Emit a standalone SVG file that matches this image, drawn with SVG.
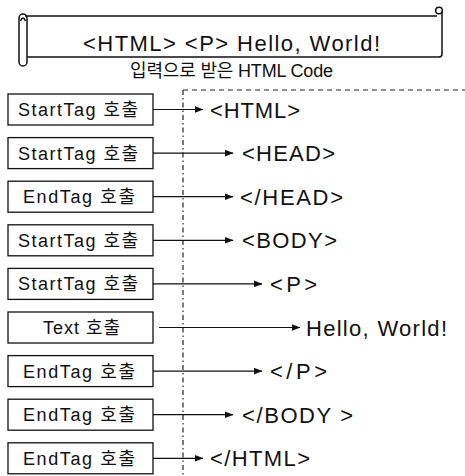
<svg xmlns="http://www.w3.org/2000/svg" width="465" height="476" viewBox="0 0 465 476">
<style>
.box{fill:#fff;stroke:#111;stroke-width:1.3}
.bt{font-family:"Liberation Sans","Noto Sans CJK KR",sans-serif;font-size:18px;fill:#111}
.lt{font-family:"Liberation Sans","Noto Sans CJK KR",sans-serif;font-size:22px;fill:#111}
.ln{stroke:#111;stroke-width:1.2;fill:none;marker-end:url(#ah)}
.ban{fill:none;stroke:#111;stroke-width:1.5}
</style>
<defs>
<marker id="ah" markerUnits="userSpaceOnUse" markerWidth="9" markerHeight="7" refX="8.5" refY="3.5" orient="auto">
<path d="M0,0 L9,3.5 L0,7 z" fill="#111"/>
</marker>
</defs>
<rect width="465" height="476" fill="#fff"/>
<g id="banner">
<path class="ban" d="M25,16 H437 M442,12 V54 Q442,57 439,57 H27"/>
<circle class="ban" cx="439" cy="10.5" r="3.3"/>
<rect class="ban" x="19" y="14" width="8" height="52" rx="4"/>
<path class="ban" d="M20.5,21 Q23,15 25.5,21" stroke-width="1"/>
<text class="lt" x="83" y="51" textLength="297" lengthAdjust="spacing">&lt;HTML&gt; &lt;P&gt; Hello, World!</text>
<text class="bt" x="130" y="77" font-size="16" textLength="203" lengthAdjust="spacing">입력으로 받은 HTML Code</text>
</g>
<g id="connectors">
<path d="M183,90 H465" stroke="#222" stroke-width="1.2" stroke-dasharray="5 4" fill="none"/>
<path d="M183,90 V476" stroke="#222" stroke-width="1.2" stroke-dasharray="5 3 1.5 3" fill="none"/>
<path class="ln" d="M153,109.5 H203"/>
<path class="ln" d="M153,153.1 H233"/>
<path class="ln" d="M153,196.7 H233"/>
<path class="ln" d="M153,240.3 H233"/>
<path class="ln" d="M153,283.9 H262"/>
<path class="ln" d="M159,327.5 H300"/>
<path class="ln" d="M153,371.1 H262"/>
<path class="ln" d="M153,414.7 H233"/>
<path class="ln" d="M153,458.3 H203"/>
</g>
<g id="n1"><rect class="box" x="8" y="94" width="145" height="31"/><text class="bt" x="18" y="116" textLength="120" lengthAdjust="spacing">StartTag 호출</text><text class="lt" x="210" y="117.5" textLength="90" lengthAdjust="spacing">&lt;HTML&gt;</text></g>
<g id="n2"><rect class="box" x="8" y="137.6" width="145" height="31"/><text class="bt" x="18" y="159.6" textLength="120" lengthAdjust="spacing">StartTag 호출</text><text class="lt" x="242" y="161.1" textLength="93" lengthAdjust="spacing">&lt;HEAD&gt;</text></g>
<g id="n3"><rect class="box" x="8" y="181.2" width="145" height="31"/><text class="bt" x="23" y="203.2" textLength="112" lengthAdjust="spacing">EndTag 호출</text><text class="lt" x="240" y="204.7" textLength="103" lengthAdjust="spacing">&lt;/HEAD&gt;</text></g>
<g id="n4"><rect class="box" x="8" y="224.8" width="145" height="31"/><text class="bt" x="18" y="246.8" textLength="120" lengthAdjust="spacing">StartTag 호출</text><text class="lt" x="242" y="248.3" textLength="95" lengthAdjust="spacing">&lt;BODY&gt;</text></g>
<g id="n5"><rect class="box" x="8" y="268.4" width="145" height="31"/><text class="bt" x="18" y="290.4" textLength="120" lengthAdjust="spacing">StartTag 호출</text><text class="lt" x="270" y="291.9" textLength="47" lengthAdjust="spacing">&lt;P&gt;</text></g>
<g id="n6"><rect class="box" x="8" y="312" width="145" height="31"/><text class="bt" x="43" y="334" textLength="77" lengthAdjust="spacing">Text 호출</text><text class="lt" x="306" y="335.5" textLength="141" lengthAdjust="spacing">Hello, World!</text></g>
<g id="n7"><rect class="box" x="8" y="355.6" width="145" height="31"/><text class="bt" x="23" y="377.6" textLength="112" lengthAdjust="spacing">EndTag 호출</text><text class="lt" x="270" y="379.1" textLength="57" lengthAdjust="spacing">&lt;/P&gt;</text></g>
<g id="n8"><rect class="box" x="8" y="399.2" width="145" height="31"/><text class="bt" x="23" y="421.2" textLength="112" lengthAdjust="spacing">EndTag 호출</text><text class="lt" x="242" y="422.7" textLength="111" lengthAdjust="spacing">&lt;/BODY &gt;</text></g>
<g id="n9"><rect class="box" x="8" y="442.8" width="145" height="31"/><text class="bt" x="23" y="464.8" textLength="112" lengthAdjust="spacing">EndTag 호출</text><text class="lt" x="210" y="466.3" textLength="100" lengthAdjust="spacing">&lt;/HTML&gt;</text></g>
</svg>
